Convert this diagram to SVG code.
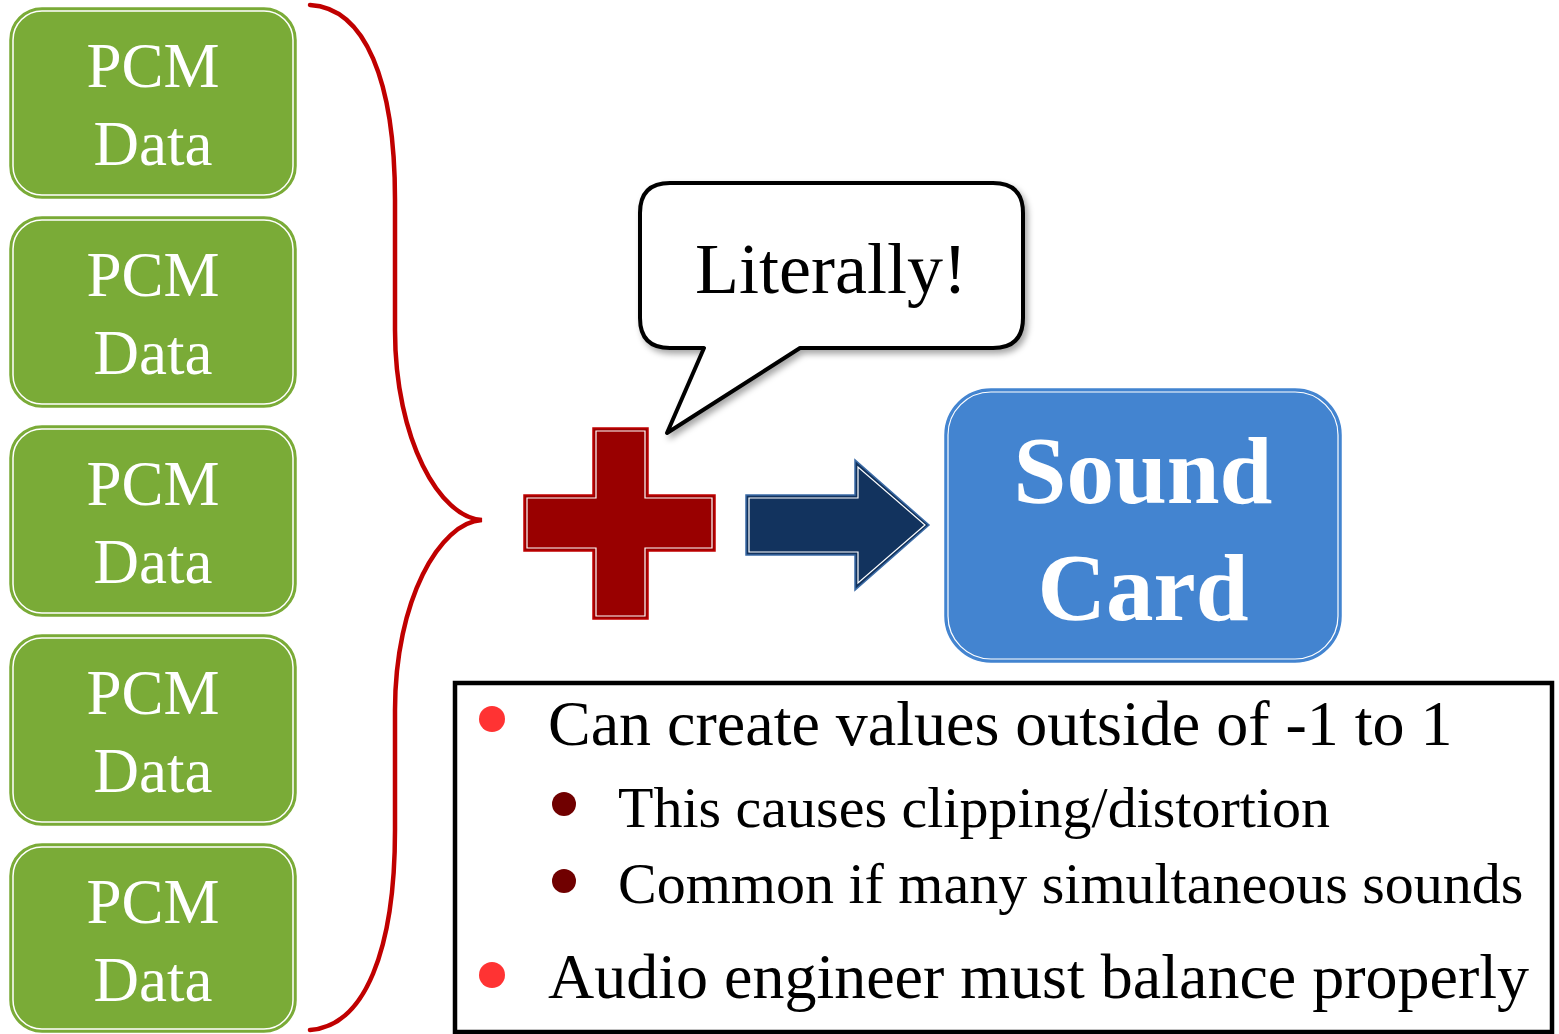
<svg xmlns="http://www.w3.org/2000/svg" width="1559" height="1034" viewBox="0 0 1559 1034">
<defs>
<style>
.pcm-box{fill:#7AAB37;stroke:#7AAB37;stroke-width:1.5}
.pcm-in{fill:none;stroke:#ffffff;stroke-width:1.5}
.pcm-txt{font-family:"Liberation Serif","Times New Roman",serif;font-size:63px;fill:#ffffff;text-anchor:middle}
.body{font-family:"Liberation Serif","Times New Roman",serif;fill:#000000}
.main{font-size:64px}
.sub{font-size:58px}
</style>
<filter id="shadow" x="-10%" y="-10%" width="130%" height="130%">
<feDropShadow dx="3" dy="4" stdDeviation="3" flood-color="#000000" flood-opacity="0.35"/>
</filter>
</defs>
<rect width="1559" height="1034" fill="#ffffff"/>

<g id="pcm1">
<rect class="pcm-box" x="10" y="8" width="286" height="190" rx="32"/>
<rect class="pcm-in" x="13" y="11" width="280" height="184" rx="29"/>
<text class="pcm-txt" x="153" y="87">PCM</text>
<text class="pcm-txt" x="153" y="165">Data</text>
</g>
<g id="pcm2">
<rect class="pcm-box" x="10" y="217" width="286" height="190" rx="32"/>
<rect class="pcm-in" x="13" y="220" width="280" height="184" rx="29"/>
<text class="pcm-txt" x="153" y="296">PCM</text>
<text class="pcm-txt" x="153" y="374">Data</text>
</g>
<g id="pcm3">
<rect class="pcm-box" x="10" y="426" width="286" height="190" rx="32"/>
<rect class="pcm-in" x="13" y="429" width="280" height="184" rx="29"/>
<text class="pcm-txt" x="153" y="505">PCM</text>
<text class="pcm-txt" x="153" y="583">Data</text>
</g>
<g id="pcm4">
<rect class="pcm-box" x="10" y="635" width="286" height="190" rx="32"/>
<rect class="pcm-in" x="13" y="638" width="280" height="184" rx="29"/>
<text class="pcm-txt" x="153" y="714">PCM</text>
<text class="pcm-txt" x="153" y="792">Data</text>
</g>
<g id="pcm5">
<rect class="pcm-box" x="10" y="844" width="286" height="188" rx="32"/>
<rect class="pcm-in" x="13" y="847" width="280" height="182" rx="29"/>
<text class="pcm-txt" x="153" y="923">PCM</text>
<text class="pcm-txt" x="153" y="1001">Data</text>
</g>

<g id="connectors">
<path id="brace" d="M310,5 C365,8 395,80 395,200 L395,330 C395,440 440,518 482,520 C440,522 395,600 395,710 L395,830 C395,950 365,1026 310,1030" fill="none" stroke="#C00000" stroke-width="4.5" stroke-linecap="round"/>
</g>

<g id="plus">
<path d="M593,428 H648 V495 H715 V551 H648 V619 H593 V551 H524 V495 H593 Z" fill="#990000" stroke="#C00000" stroke-width="1.5"/>
<path d="M596,431 H645 V498 H712 V548 H645 V616 H596 V548 H527 V498 H596 Z" fill="none" stroke="#ffffff" stroke-width="1.2"/>
</g>

<g id="arrow">
<path d="M746,495 H855 V460 L929,525 L855,590 V555 H746 Z" fill="#12335E" stroke="#3A6AA5" stroke-width="1.5"/>
<path d="M749,498 H858 V467 L925,525 L858,583 V552 H749 Z" fill="none" stroke="#ffffff" stroke-width="1.2"/>
</g>

<g id="bubble">
<path d="M670,183 H993 Q1023,183 1023,213 V318 Q1023,348 993,348 H800 L667,433 L704,348 H670 Q640,348 640,318 V213 Q640,183 670,183 Z" fill="#ffffff" stroke="#000000" stroke-width="4" stroke-linejoin="round" filter="url(#shadow)"/>
<text class="body" x="831" y="293" font-size="72" text-anchor="middle">Literally!</text>
</g>

<g id="soundcard">
<rect x="945" y="389" width="396" height="273" rx="46" fill="#4384D0" stroke="#4384D0" stroke-width="1.5"/>
<rect x="948" y="392" width="390" height="267" rx="43" fill="none" stroke="#ffffff" stroke-width="1.2"/>
<text x="1143" y="503" font-family="'Liberation Serif','Times New Roman',serif" font-size="95" font-weight="bold" fill="#ffffff" text-anchor="middle">Sound</text>
<text x="1143" y="620" font-family="'Liberation Serif','Times New Roman',serif" font-size="95" font-weight="bold" fill="#ffffff" text-anchor="middle">Card</text>
</g>

<g id="notes">
<rect x="455" y="683" width="1097" height="349" fill="#ffffff" stroke="#000000" stroke-width="4.5"/>
<circle cx="492" cy="719" r="13" fill="#FF3333"/>
<text class="body main" x="548" y="745">Can create values outside of -1 to 1</text>
<circle cx="564" cy="804" r="12" fill="#700000"/>
<text class="body sub" x="618" y="827">This causes clipping/distortion</text>
<circle cx="564" cy="881" r="12" fill="#700000"/>
<text class="body sub" x="618" y="903">Common if many simultaneous sounds</text>
<circle cx="492" cy="975" r="13" fill="#FF3333"/>
<text class="body main" x="548" y="998">Audio engineer must balance properly</text>
</g>
</svg>
